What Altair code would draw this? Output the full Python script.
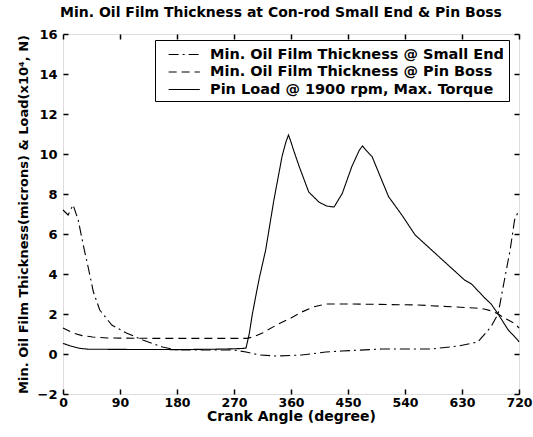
import altair as alt
import pandas as pd

# ---- data ----
small_end_angle = [0, 8, 16, 24, 32, 40, 48, 58, 77, 100, 126, 157, 180, 230, 270, 289, 310, 336, 377, 415,
                   440, 503, 582, 624, 655, 676, 687, 697, 706, 713, 720]
small_end_value = [7.2, 6.95, 7.45, 6.7, 5.45, 4.3, 3.1, 2.2, 1.45, 1.05, 0.7, 0.35, 0.2, 0.2, 0.2, 0.1, -0.05, -0.1,
                   -0.05, 0.1, 0.15, 0.25, 0.25, 0.4, 0.6, 1.37, 2.0, 3.7, 5.2, 6.7, 7.2]

pin_boss_angle = [0, 16, 30, 47, 70, 150, 290, 300, 315, 340, 360, 377, 395, 415, 450, 500, 560, 620, 650, 665,
                  677, 687, 698, 713, 720]
pin_boss_value = [1.3, 1.05, 0.92, 0.85, 0.8, 0.78, 0.78, 0.85, 1.05, 1.5, 1.8, 2.1, 2.35, 2.5, 2.5, 2.48, 2.45,
                  2.35, 2.3, 2.25, 2.15, 2.0, 1.78, 1.53, 1.3]

pin_load_angle = [0, 10, 20, 27, 40, 90, 180, 240, 270, 285, 289, 294, 299, 305, 310, 320, 333, 346, 352, 356, 360,
                  364, 373, 388, 404, 416, 428, 441, 456, 468, 473, 478, 488, 501, 514, 535, 556, 582, 608, 634,
                  645, 666, 676, 687, 703, 718, 720]
pin_load_value = [0.53, 0.42, 0.33, 0.28, 0.24, 0.23, 0.22, 0.24, 0.26, 0.28, 0.3, 1.0, 2.0, 3.0, 3.8, 5.2, 7.7,
                  9.9, 10.6, 10.95, 10.6, 10.2, 9.37, 8.1, 7.6, 7.4, 7.35, 8.03, 9.37, 10.2, 10.4, 10.2, 9.87,
                  8.87, 7.87, 6.95, 5.95, 5.2, 4.45, 3.7, 3.5, 2.8, 2.5, 2.0, 1.2, 0.7, 0.6]

series_names = ["Min. Oil Film Thickness @ Small End",
                "Min. Oil Film Thickness @ Pin Boss",
                "Pin Load @ 1900 rpm, Max. Torque"]

x_ticks = [0, 90, 180, 270, 360, 450, 540, 630, 720]
y_ticks = [-2, 0, 2, 4, 6, 8, 10, 12, 14, 16]

rows = []
for name, xs, ys in zip(series_names,
                        [small_end_angle, pin_boss_angle, pin_load_angle],
                        [small_end_value, pin_boss_value, pin_load_value]):
    for i, (a, v) in enumerate(zip(xs, ys)):
        rows.append({"series": name, "angle": a, "value": v, "order": i})
df = pd.DataFrame(rows)

FONT = "DejaVu Sans"

xscale = alt.Scale(domain=[0, 720], nice=False, zero=False)
yscale = alt.Scale(domain=[-2, 16], nice=False, zero=False)

main = alt.Chart(df).mark_line(strokeWidth=1.1, color="black").encode(
    x=alt.X("angle:Q", scale=xscale,
            axis=alt.Axis(values=x_ticks, orient="bottom", offset=-5, tickSize=5, domain=False, grid=False,
                          labelPadding=2, title="Crank Angle (degree)", titlePadding=1,
                          labelFont=FONT, labelFontSize=12.5, labelFontWeight="bold", labelColor="black",
                          titleFont=FONT, titleFontSize=14, titleFontWeight="bold", titleColor="black",
                          tickColor="black", tickWidth=1.5, labelFlush=False)),
    y=alt.Y("value:Q", scale=yscale,
            axis=alt.Axis(values=y_ticks, orient="left", offset=-5, tickSize=5, domain=False, grid=False,
                          labelPadding=6, title="Min. Oil Film Thickness(microns) & Load(x10\u2074, N)",
                          titlePadding=7,
                          labelFont=FONT, labelFontSize=13, labelFontWeight="bold", labelColor="black",
                          titleFont=FONT, titleFontSize=13, titleFontWeight="bold", titleColor="black",
                          tickColor="black", tickWidth=1.5, labelFlush=False)),
    strokeDash=alt.StrokeDash("series:N",
                              scale=alt.Scale(domain=series_names, range=[[10, 4, 2, 4], [8, 5], [1, 0]]),
                              legend=alt.Legend(title=None, orient="none", legendX=92, legendY=6,
                                                symbolType="M-0.1,0H3.5", symbolSize=300,
                                                symbolStrokeColor="black", symbolFillColor="transparent",
                                                symbolStrokeWidth=1.1, labelFont=FONT, labelFontSize=14.5,
                                                labelFontWeight="bold", labelColor="black", labelLimit=400,
                                                fillColor="white", strokeColor="black", padding=5,
                                                rowPadding=1.5, labelOffset=31)),
    order="order:Q",
    detail="series:N",
)

frame = alt.Chart(df).mark_point(opacity=0).encode(
    x=alt.X("angle:Q", scale=xscale,
            axis=alt.Axis(values=x_ticks, orient="top", offset=-5, tickSize=5, domain=False, grid=False,
                          labels=False, title=None, tickColor="black", tickWidth=1.5)),
    y=alt.Y("value:Q", scale=yscale,
            axis=alt.Axis(values=y_ticks, orient="right", offset=-5, tickSize=5, domain=False, grid=False,
                          labels=False, title=None, tickColor="black", tickWidth=1.5)),
)

chart = alt.layer(main, frame).resolve_axis(x="independent", y="independent").properties(
    width=456, height=360,
    autosize=alt.AutoSizeParams(type="none"),
    padding={"left": 63, "top": 34, "right": 14, "bottom": 43},
    title=alt.Title("Min. Oil Film Thickness at Con-rod Small End & Pin Boss", font=FONT, fontSize=14,
                    fontWeight="bold", color="black", offset=8, anchor="middle", dx=-10),
).configure_view(stroke="black", strokeWidth=2).configure(background="white")

chart.save("out.html", embed_options={"renderer": "svg", "actions": False})
